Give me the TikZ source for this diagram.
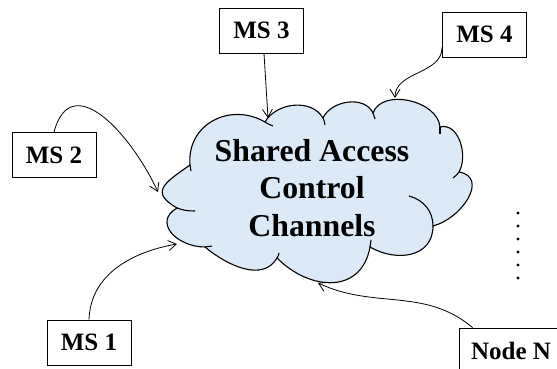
\documentclass[tikz,border=0pt]{standalone}
\usepackage{fontspec}
\setmainfont{Liberation Serif}
\usepackage{tikz}
\usetikzlibrary{arrows.meta}
\definecolor{CloudBlue}{RGB}{220, 233, 247}

\begin{document}
\begin{tikzpicture}[
    x=1pt, y=1pt,
    msbox/.style={draw, line width=0.9pt, minimum width=84pt, minimum height=45pt, inner sep=0pt, font=\fontsize{25}{30}\selectfont\bfseries},
    arr/.style={-{Straight Barb[length=8pt, width=10pt]}, line width=0.8pt},
    puff/.style={line width=1.1pt}
]
    \useasboundingbox (0,0) rectangle (557,369);
    \clip (0,0) rectangle (557,369);

    % cloud outline
    \coordinate (p1) at (190,204);
    \coordinate (p2) at (265,247);
    \coordinate (p3) at (323,251);
    \coordinate (p4) at (373,256);
    \coordinate (p5) at (440,242);
    \coordinate (p6) at (459,197);
    \coordinate (p7) at (433,143);
    \coordinate (p8) at (370,122);
    \coordinate (p9) at (277,111);
    \coordinate (p10) at (205,122);
    \coordinate (p11) at (177,161);
    \filldraw[puff, fill=CloudBlue]
        (p1) to[out=95, in=150, looseness=1.2] (p2)
        to[out=60, in=120] (p3)
        to[out=65, in=115] (p4)
        to[out=70, in=95] (p5)
        to[out=15, in=60] (p6)
        to[out=-10, in=15, looseness=1.3] (p7)
        to[out=-90, in=-30, looseness=1.2] (p8)
        to[out=-100, in=-45, looseness=1.3] (p9)
        to[out=-120, in=-40] (p10)
        to[out=180, in=-150, looseness=1.5] (p11)
        to[out=150, in=215, looseness=1.8] (p1) -- cycle;
    % small hooks inside the cloud
    \draw[puff] (p1) to[out=-85, in=95] ++(1,-6);
    \draw[puff] (p2) to[out=-30, in=165] ++(8,-4);
    \draw[puff] (p3) to[out=-60, in=100] ++(2,-7);
    \draw[puff] (p4) to[out=-65, in=110] ++(2,-6);
    \draw[puff] (p5) to[out=-85, in=95] ++(0,-7);
    \draw[puff] (p6) to[out=-120, in=45] ++(-6,-6);
    \draw[puff] (p7) to[out=90, in=-15] ++(-24,30);
    \draw[puff] (p8) to[out=80, in=-95] ++(1,7);
    \draw[puff] (p9) to[out=45, in=-110] ++(2,5);
    \draw[puff] (p10) to[out=0, in=180] ++(7,1);
    \draw[puff] (p11) to[out=-20, in=180] ++(18,-3);

    \node[font=\fontsize{31.8}{37.5}\selectfont\bfseries, align=center, inner sep=0pt] (chan) at (312,181) {Shared Access\\Control\\Channels};

    % stations
    \node[msbox] (ms3) at (261.5,338.5) {MS 3};
    \node[msbox] (ms4) at (484.5,334.5) {MS 4};
    \node[msbox] (ms2) at (54,214) {MS 2};
    \node[msbox] (ms1) at (89,26.5) {MS 1};
    \node[msbox, minimum width=104pt, minimum height=46pt] (nodeN) at (511,18) {Node N};

    % vertical ellipsis
    \foreach \i in {0,...,5}
        \fill (518,156-13*\i) circle (1.6);

    % arrow ends on the cloud
    \coordinate (c3) at (268,251);
    \coordinate (c4) at (395,271);
    \coordinate (c2) at (158,177);
    \coordinate (c1) at (177,125);
    \coordinate (cN) at (318,86);

    \draw[arr] ([xshift=2.5pt]ms3.south) -- (c3);
    \draw[arr] ([yshift=10pt]ms4.south west) to[out=-90, in=90] (c4);
    \draw[arr] (ms2.north) to[out=75, in=115, looseness=1.4] (c2);
    \draw[arr] (ms1.north) to[out=88, in=190] (c1);
    \draw[arr] ([xshift=14pt]nodeN.north west) to[out=140, in=-25] (cN);
\end{tikzpicture}
\end{document}
